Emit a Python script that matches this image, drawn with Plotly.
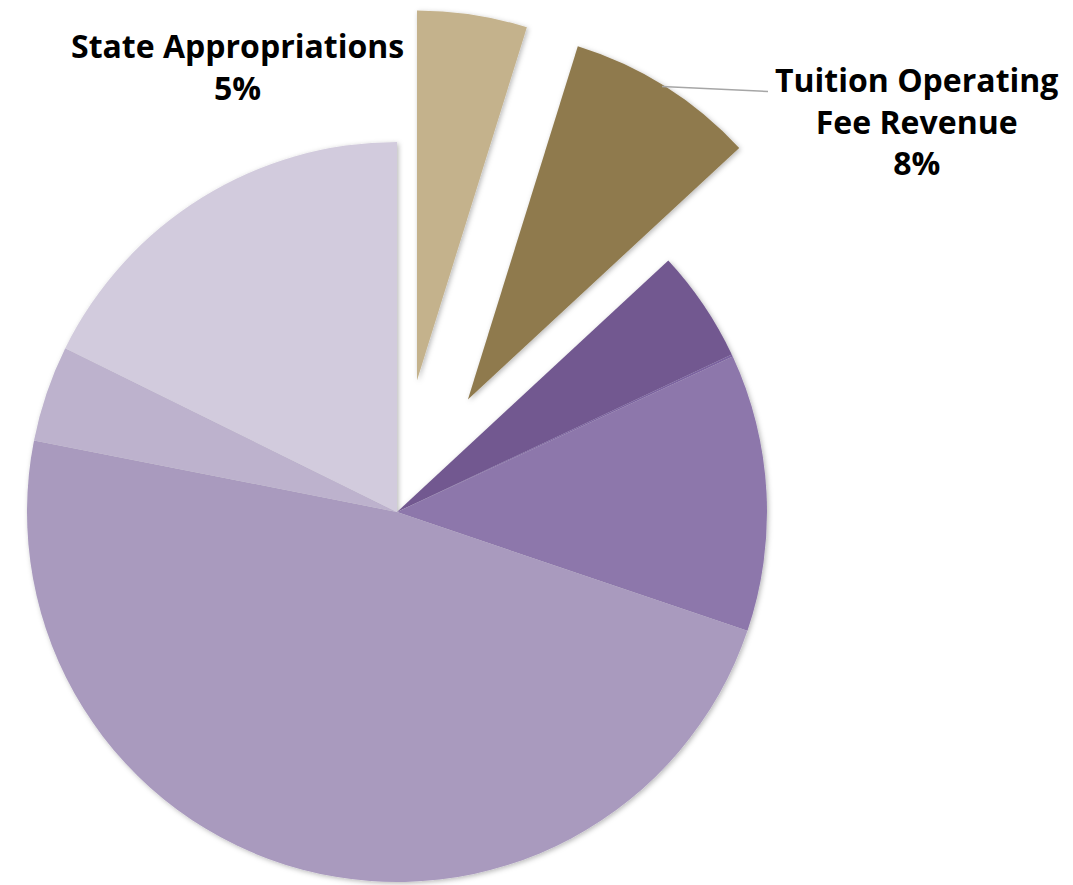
import math
import plotly.graph_objects as go

# Revenue shares (percent of total), clockwise from 12 o'clock
labels = [
    "State Appropriations",
    "Tuition Operating Fee Revenue",
    "Other source 1",
    "Other source 2",
    "Other source 3",
    "Other source 4",
    "Other source 5",
    "Other source 6",
]
label_lines = [
    "State Appropriations",
    "Tuition Operating<br>Fee Revenue",
]
values = [4.8, 8.3, 4.9, 0.1, 12.1, 47.9, 4.2, 17.7]
colors = ["#C4B28C", "#8F7A4D", "#725990", "#7C64A0", "#8D77AB",
          "#A99ABE", "#BDB2CD", "#D2CBDD"]
pulled = [0, 1]  # slices pulled away from the centre

W, H = 1073, 885
R = 370            # pie radius, px
CX, CY = 397, 512  # pie centre, px
PULL = 133         # pull distance, px

total = sum(values)


def domain(cx, cy):
    return dict(x=[(cx - R) / W, (cx + R) / W],
                y=[1 - (cy + R) / H, 1 - (cy - R) / H])


def mid_angle(i):
    start = sum(values[:i]) / total * 360
    return math.radians(start + values[i] / total * 180)


clear = "rgba(0,0,0,0)"
fig = go.Figure()

# main body of the pie (pulled slices left empty)
fig.add_trace(go.Pie(
    labels=labels, values=values, sort=False, direction="clockwise",
    rotation=0, textinfo="none", hoverinfo="label+percent",
    marker=dict(colors=[clear if i in pulled else c for i, c in enumerate(colors)],
                line=dict(width=0)),
    domain=domain(CX, CY),
))

# each pulled slice drawn from its own shifted copy of the pie
for p in pulled:
    a = mid_angle(p)
    cx = CX + PULL * math.sin(a)
    cy = CY - PULL * math.cos(a)
    fig.add_trace(go.Pie(
        labels=labels, values=values, sort=False, direction="clockwise",
        rotation=0, textinfo="none", hoverinfo="label+percent",
        marker=dict(colors=[c if i == p else clear for i, c in enumerate(colors)],
                    line=dict(width=0)),
        domain=domain(cx, cy),
    ))

font = dict(family="Open Sans", size=32, color="#000000")


def pct(i):
    return f"{round(values[i] / total * 100)}%"


fig.add_annotation(
    text=f"<b>{label_lines[0]}<br>{pct(0)}</b>",
    x=237 / W, y=1 - 67 / H, xref="paper", yref="paper",
    xanchor="center", yanchor="middle", showarrow=False, font=font,
    align="center",
)
fig.add_annotation(
    text=f"<b>{label_lines[1]}<br>{pct(1)}</b>",
    x=916 / W, y=1 - 121 / H, xref="paper", yref="paper",
    xanchor="center", yanchor="middle", showarrow=False, font=font,
    align="center",
)

# leader line for the tuition label
fig.add_shape(type="line", xref="paper", yref="paper",
              x0=662 / W, y0=1 - 86.5 / H, x1=768 / W, y1=1 - 91.5 / H,
              line=dict(color="#A6A6A6", width=1.5))

fig.update_layout(
    width=W, height=H, margin=dict(l=0, r=0, t=0, b=0),
    showlegend=False, paper_bgcolor="white", plot_bgcolor="white",
)

# soft drop shadow under the pie slices
shadow_js = """
var gd = document.querySelector('.plotly-graph-div');
var svg = gd.querySelector('svg.main-svg');
var ns = 'http://www.w3.org/2000/svg';
var defs = svg.querySelector('defs') || svg.insertBefore(document.createElementNS(ns, 'defs'), svg.firstChild);
var f = document.createElementNS(ns, 'filter');
f.setAttribute('id', 'sliceShadow');
f.setAttribute('x', '-20%'); f.setAttribute('y', '-20%');
f.setAttribute('width', '140%'); f.setAttribute('height', '140%');
var ds = document.createElementNS(ns, 'feDropShadow');
ds.setAttribute('dx', '1.5'); ds.setAttribute('dy', '1.5');
ds.setAttribute('stdDeviation', '2.5');
ds.setAttribute('flood-color', '#000'); ds.setAttribute('flood-opacity', '0.28');
f.appendChild(ds); defs.appendChild(f);
gd.querySelectorAll('.pielayer .trace').forEach(function (t) {
  t.setAttribute('filter', 'url(#sliceShadow)');
});
"""

fig.write_html("out.html", post_script=shadow_js)
